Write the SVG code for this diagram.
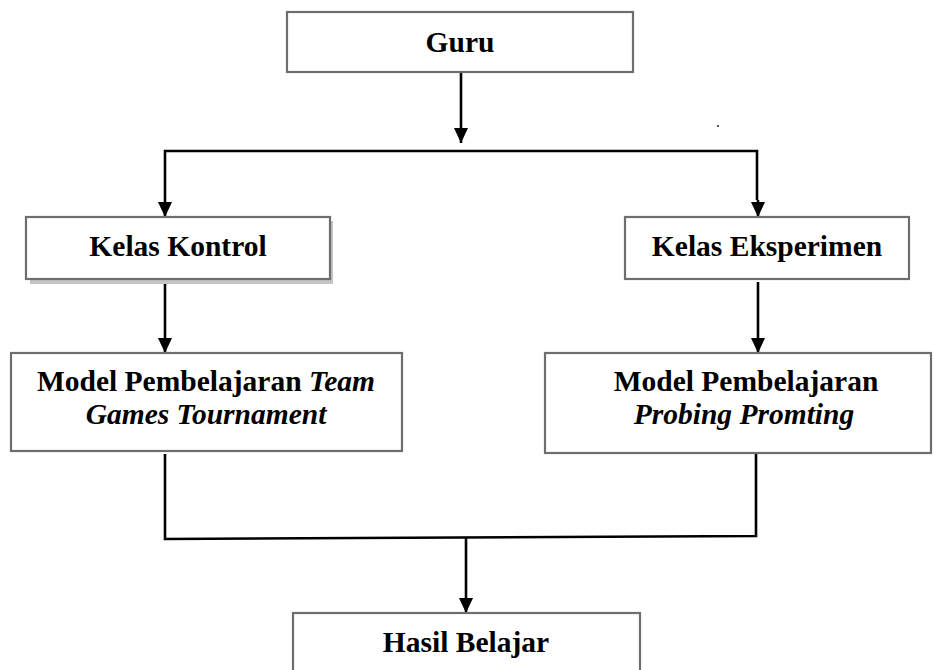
<svg xmlns="http://www.w3.org/2000/svg" width="935" height="670" viewBox="0 0 935 670">
<style>
.box{fill:#fff;stroke:#6e6e6e;stroke-width:2.2}
.shadow{fill:#c4c4c4}
.t{font-family:"Liberation Serif","Times New Roman",serif;font-weight:bold;font-size:29.5px;fill:#000;text-anchor:middle}
.i{font-style:italic}
.c{fill:none;stroke:#000;stroke-width:2.6}
</style>
<defs>
<marker id="arr" markerWidth="15" markerHeight="14" refX="15" refY="7" orient="auto" markerUnits="userSpaceOnUse" viewBox="0 0 15 14">
<path d="M0,0 L15,7 L0,14 Z" fill="#000"/>
</marker>
</defs>
<rect x="0" y="0" width="935" height="670" fill="#fff"/>
<g id="connectors">
<line class="c" x1="461" y1="72" x2="461" y2="143" marker-end="url(#arr)"/>
<polyline class="c" points="165,200 165,151 757,151 757,200"/>
<line class="c" x1="165" y1="200" x2="165" y2="217" marker-end="url(#arr)"/>
<line class="c" x1="758" y1="200" x2="758" y2="217" marker-end="url(#arr)"/>
<line class="c" x1="165" y1="282" x2="165" y2="353" marker-end="url(#arr)"/>
<line class="c" x1="758" y1="282" x2="758" y2="353" marker-end="url(#arr)"/>
<polyline class="c" points="165,454 165,539 756,536 756,449"/>
<line class="c" x1="466" y1="538" x2="466" y2="613" marker-end="url(#arr)"/>
<circle cx="718" cy="126" r="0.9" fill="#000"/>
</g>
<g id="guru">
<rect class="box" x="287" y="12" width="346" height="60"/>
<text class="t" x="460" y="52">Guru</text>
</g>
<g id="kelas-kontrol">
<rect class="shadow" x="30" y="221" width="303" height="63"/>
<rect class="box" x="26" y="217" width="304" height="62"/>
<text class="t" x="178" y="256">Kelas Kontrol</text>
</g>
<g id="kelas-eksperimen">
<rect class="box" x="625" y="217" width="284" height="62"/>
<text class="t" x="767" y="256">Kelas Eksperimen</text>
</g>
<g id="model-tgt">
<rect class="box" x="11" y="353" width="391" height="98"/>
<text class="t" x="206" y="391">Model Pembelajaran <tspan class="i">Team</tspan></text>
<text class="t i" x="206" y="424">Games Tournament</text>
</g>
<g id="model-pp">
<rect class="box" x="545" y="353" width="386" height="100"/>
<text class="t" x="746" y="391">Model Pembelajaran</text>
<text class="t i" x="744" y="424">Probing Promting</text>
</g>
<g id="hasil-belajar">
<rect class="box" x="293" y="613" width="347" height="70"/>
<text class="t" x="466" y="652">Hasil Belajar</text>
</g>
</svg>
